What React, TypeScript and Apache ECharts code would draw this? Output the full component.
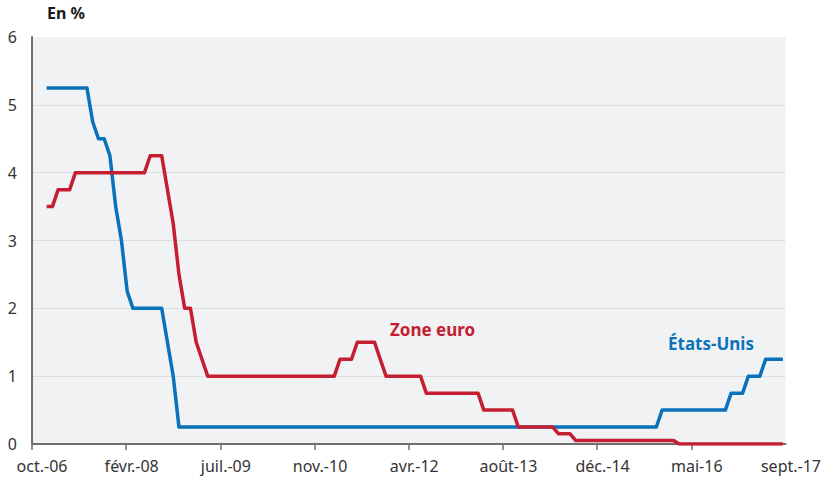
import React, { useEffect, useRef } from "react";
import * as echarts from "echarts";

// Tick labels of the horizontal axis (evenly spaced, oct.-06 to sept.-17)
const xTickLabels = [
  "oct.-06",
  "févr.-08",
  "juil.-09",
  "nov.-10",
  "avr.-12",
  "août-13",
  "déc.-14",
  "mai-16",
  "sept.-17",
];

// Monthly values from janv.-07 to sept.-17 (one row per year)
const etatsUnis = [
  5.25, 5.25, 5.25, 5.25, 5.25, 5.25, 5.25, 5.25, 4.75, 4.5, 4.5, 4.25, // 2007
  3.5, 3.0, 2.25, 2.0, 2.0, 2.0, 2.0, 2.0, 2.0, 1.5, 1.0, 0.25, // 2008
  0.25, 0.25, 0.25, 0.25, 0.25, 0.25, 0.25, 0.25, 0.25, 0.25, 0.25, 0.25, // 2009
  0.25, 0.25, 0.25, 0.25, 0.25, 0.25, 0.25, 0.25, 0.25, 0.25, 0.25, 0.25, // 2010
  0.25, 0.25, 0.25, 0.25, 0.25, 0.25, 0.25, 0.25, 0.25, 0.25, 0.25, 0.25, // 2011
  0.25, 0.25, 0.25, 0.25, 0.25, 0.25, 0.25, 0.25, 0.25, 0.25, 0.25, 0.25, // 2012
  0.25, 0.25, 0.25, 0.25, 0.25, 0.25, 0.25, 0.25, 0.25, 0.25, 0.25, 0.25, // 2013
  0.25, 0.25, 0.25, 0.25, 0.25, 0.25, 0.25, 0.25, 0.25, 0.25, 0.25, 0.25, // 2014
  0.25, 0.25, 0.25, 0.25, 0.25, 0.25, 0.25, 0.25, 0.25, 0.25, 0.25, 0.5, // 2015
  0.5, 0.5, 0.5, 0.5, 0.5, 0.5, 0.5, 0.5, 0.5, 0.5, 0.5, 0.75, // 2016
  0.75, 0.75, 1.0, 1.0, 1.0, 1.25, 1.25, 1.25, 1.25, // 2017
];

const zoneEuro = [
  3.5, 3.5, 3.75, 3.75, 3.75, 4.0, 4.0, 4.0, 4.0, 4.0, 4.0, 4.0, // 2007
  4.0, 4.0, 4.0, 4.0, 4.0, 4.0, 4.25, 4.25, 4.25, 3.75, 3.25, 2.5, // 2008
  2.0, 2.0, 1.5, 1.25, 1.0, 1.0, 1.0, 1.0, 1.0, 1.0, 1.0, 1.0, // 2009
  1.0, 1.0, 1.0, 1.0, 1.0, 1.0, 1.0, 1.0, 1.0, 1.0, 1.0, 1.0, // 2010
  1.0, 1.0, 1.0, 1.25, 1.25, 1.25, 1.5, 1.5, 1.5, 1.5, 1.25, 1.0, // 2011
  1.0, 1.0, 1.0, 1.0, 1.0, 1.0, 0.75, 0.75, 0.75, 0.75, 0.75, 0.75, // 2012
  0.75, 0.75, 0.75, 0.75, 0.5, 0.5, 0.5, 0.5, 0.5, 0.5, 0.25, 0.25, // 2013
  0.25, 0.25, 0.25, 0.25, 0.25, 0.15, 0.15, 0.15, 0.05, 0.05, 0.05, 0.05, // 2014
  0.05, 0.05, 0.05, 0.05, 0.05, 0.05, 0.05, 0.05, 0.05, 0.05, 0.05, 0.05, // 2015
  0.05, 0.05, 0, 0, 0, 0, 0, 0, 0, 0, 0, 0, // 2016
  0, 0, 0, 0, 0, 0, 0, 0, 0, // 2017
];

// Axis in months since oct.-06; first value is janv.-07
const AXIS_MONTHS = 131;
const FIRST_MONTH = 3;
const POINT_SHIFT = -0.45;
const TICK_STEP = AXIS_MONTHS / (xTickLabels.length - 1);

const FONT = '"Noto Sans", "DejaVu Sans", sans-serif';
const BLUE = "#0a72ba";
const RED = "#c41e30";

const toPairs = (vals: number[]) =>
  vals.map((v, i) => [FIRST_MONTH + i + POINT_SHIFT, v]);

export default function App() {
  const ref = useRef<HTMLDivElement>(null);

  useEffect(() => {
    if (!ref.current) return;
    const chart = echarts.init(ref.current, undefined, { renderer: "svg" });
    chart.setOption({
      animation: false,
      backgroundColor: "#ffffff",
      grid: {
        left: 32,
        right: 38,
        top: 37,
        bottom: 35,
        show: true,
        backgroundColor: "#f1f2f4",
        borderWidth: 0,
      },
      xAxis: {
        type: "value",
        min: 0,
        max: AXIS_MONTHS,
        interval: TICK_STEP,
        splitLine: { show: false },
        axisLine: { show: true, lineStyle: { color: "#6e6e6e", width: 2 } },
        axisTick: {
          show: true,
          length: 6,
          lineStyle: { color: "#6e6e6e", width: 1.5 },
          customValues: xTickLabels.slice(0, -1).map((_, i) => i * TICK_STEP),
        },
        axisLabel: {
          margin: 14,
          color: "#333333",
          fontSize: 16,
          fontFamily: FONT,
          formatter: (v: number, idx: number) => {
            const lab = xTickLabels[Math.round(v / TICK_STEP)] ?? "";
            return idx === 0 ? `{f|${lab}}` : `{n|${lab}}`;
          },
          rich: {
            f: { padding: [0, 0, 0, 20], fontSize: 16, color: "#333333", fontFamily: FONT },
            n: { padding: [0, 0, 0, 11], fontSize: 16, color: "#333333", fontFamily: FONT },
          },
        },
      },
      yAxis: {
        type: "value",
        min: 0,
        max: 6,
        interval: 1,
        axisLine: { show: true, lineStyle: { color: "#6e6e6e", width: 2 } },
        axisTick: { show: false },
        splitLine: {
          show: true,
          lineStyle: {
            color: ["#dcdde0", "#dcdde0", "#dcdde0", "#dcdde0", "#dcdde0", "#dcdde0", "rgba(0,0,0,0)"],
            width: 1,
          },
        },
        axisLabel: { color: "#333333", fontSize: 16, fontFamily: FONT, margin: 15 },
      },
      series: [
        {
          name: "États-Unis",
          type: "line",
          data: toPairs(etatsUnis),
          showSymbol: false,
          symbol: "none",
          lineStyle: { color: BLUE, width: 3.5, join: "round" },
          z: 2,
        },
        {
          name: "Zone euro",
          type: "line",
          data: toPairs(zoneEuro),
          showSymbol: false,
          symbol: "none",
          lineStyle: { color: RED, width: 3.5, join: "round" },
          z: 3,
        },
      ],
      graphic: [
        {
          type: "text",
          left: 47,
          top: 5,
          style: { text: "En %", fontSize: 16, fontWeight: "bold", fontFamily: FONT, fill: "#1a1a1a" },
        },
        {
          type: "text",
          left: 390,
          top: 321,
          style: { text: "Zone euro", fontSize: 17, fontWeight: "bold", fontFamily: FONT, fill: RED },
        },
        {
          type: "text",
          left: 668,
          top: 335,
          style: { text: "États-Unis", fontSize: 17, fontWeight: "bold", fontFamily: FONT, fill: BLUE },
        },
      ],
    });
    return () => chart.dispose();
  }, []);

  return (
    <div
      ref={ref}
      style={{ position: "absolute", left: 0, top: 0, width: 824, height: 479 }}
    />
  );
}
